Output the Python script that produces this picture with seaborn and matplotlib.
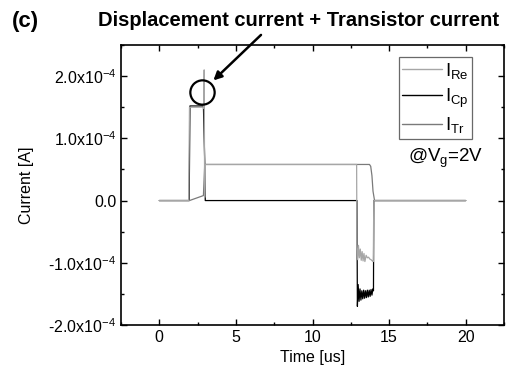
import matplotlib
matplotlib.use("Agg")
import matplotlib.pyplot as plt
import seaborn as sns
import numpy as np
import pandas as pd
from matplotlib.ticker import MultipleLocator, FuncFormatter

# ---- data (time in us, current in 1e-4 A) ----
t_re = [0, 1.92, 1.97, 2.85, 2.9, 2.93, 2.96, 3.0, 12.88, 12.9, 12.95, 13.0, 13.06, 13.12,
        13.18, 13.24, 13.3, 13.36, 13.42, 13.5, 13.58, 13.66, 13.74, 13.82, 13.9, 13.97,
        14.0, 20]
i_re = [0, 0, 1.5, 1.5, 1.48, 2.1, 0.05, 0.58, 0.58, -0.75, -0.95, -0.72, -0.92, -0.78,
        -0.96, -0.82, -0.97, -0.85, -0.98, -0.88, -0.92, -0.91, -0.94, -0.95, -0.97, -0.98,
        0, 0]

t_cp = [0, 1.95, 2.0, 2.88, 2.97, 3.0, 12.9, 12.93, 12.98, 13.04, 13.1, 13.16, 13.22,
        13.28, 13.34, 13.4, 13.46, 13.52, 13.58, 13.64, 13.7, 13.76, 13.82, 13.88, 13.94,
        13.98, 14.0, 20]
i_cp = [0, 0, 1.52, 1.52, 0.58, 0, 0, -1.7, -1.35, -1.62, -1.42, -1.6, -1.45, -1.58,
        -1.44, -1.57, -1.45, -1.56, -1.44, -1.55, -1.44, -1.54, -1.43, -1.52, -1.42,
        -1.45, 0, 0]

t_tr = [0, 1.97, 2.88, 2.96, 3.0, 13.72, 13.8, 13.88, 13.95, 14.05, 20]
i_tr = [0, 0, 0.08, 0.55, 0.58, 0.58, 0.55, 0.4, 0.15, 0, 0]

series_names = ["I$_{\\mathrm{Re}}$", "I$_{\\mathrm{Cp}}$", "I$_{\\mathrm{Tr}}$"]
series_colors = ["#a6a6a6", "#000000", "#7a7a7a"]

x_ticks = [0, 5, 10, 15, 20]
y_ticks = [-2.0, -1.0, 0.0, 1.0, 2.0]

sns.set_style("ticks")
plt.rcParams["font.family"] = ["Liberation Sans", "DejaVu Sans"]
plt.rcParams["mathtext.fontset"] = "custom"
plt.rcParams["mathtext.rm"] = "Liberation Sans"
plt.rcParams["mathtext.it"] = "Liberation Sans:italic"
plt.rcParams["mathtext.bf"] = "Liberation Sans:bold"
for k in ["text.color", "axes.labelcolor", "xtick.color", "ytick.color", "axes.edgecolor"]:
    plt.rcParams[k] = "black"

fig = plt.figure(figsize=(5.12, 3.81), dpi=100)
ax = fig.add_axes([121/512, 1-325/381, (504-121)/512, (325-45)/381])

df_cp = pd.DataFrame({"t": t_cp, "i": np.array(i_cp) * 1e-4})
df_tr = pd.DataFrame({"t": t_tr, "i": np.array(i_tr) * 1e-4})
df_re = pd.DataFrame({"t": t_re, "i": np.array(i_re) * 1e-4})

lw = 0.9
sns.lineplot(data=df_cp, x="t", y="i", ax=ax, color=series_colors[1], lw=lw,
             estimator=None, sort=False, label=series_names[1])
sns.lineplot(data=df_tr, x="t", y="i", ax=ax, color=series_colors[2], lw=lw,
             estimator=None, sort=False, label=series_names[2])
sns.lineplot(data=df_re, x="t", y="i", ax=ax, color=series_colors[0], lw=lw,
             estimator=None, sort=False, label=series_names[0])

ax.set_xlim(-2.5, 22.5)
ax.set_ylim(-2.0e-4, 2.5e-4)
ax.set_xticks(x_ticks)
ax.set_yticks([v * 1e-4 for v in y_ticks])
ax.xaxis.set_minor_locator(MultipleLocator(2.5))
ax.yaxis.set_minor_locator(MultipleLocator(0.5e-4))

def yfmt(v, pos):
    m = v / 1e-4
    if abs(m) < 1e-9:
        return "0.0"
    return f"{m:.1f}x10$^{{-4}}$"

ax.yaxis.set_major_formatter(FuncFormatter(yfmt))
ax.tick_params(which="both", direction="in", top=True, right=True, labelsize=11.5,
               width=1.0, color="black", labelcolor="black")
ax.tick_params(which="major", length=4)
ax.tick_params(which="minor", length=2.5)
for s in ax.spines.values():
    s.set_linewidth(1.2)
    s.set_color("black")

ax.set_xlabel("Time [us]", fontsize=11.5, labelpad=4)
ax.set_ylabel("Current [A]", fontsize=11.5, labelpad=10)

# legend
h, l = ax.get_legend_handles_labels()
order = [2, 0, 1]
leg = ax.legend([h[i] for i in order], [l[i] for i in order], loc="upper right",
                bbox_to_anchor=((472-121)/383, (325-57)/280), fontsize=13.5,
                frameon=True, fancybox=False, handlelength=2.1, handletextpad=0.15,
                borderpad=0.2, borderaxespad=0, labelspacing=0.3)
leg.get_frame().set_edgecolor("#444444")
leg.get_frame().set_linewidth(0.9)
for line in leg.get_lines():
    line.set_linewidth(1.0)

ax.text(446/512, 1-158/381, "@V$_{\\mathrm{g}}$=2V", transform=fig.transFigure,
        ha="center", va="center", fontsize=13.5)

# circle and arrow annotation
ax.plot([2.8], [1.75e-4], marker="o", markersize=17.5, markerfacecolor="none",
        markeredgecolor="black", markeredgewidth=1.6, linestyle="none")
ax.annotate("", xy=(3.4, 1.9e-4), xytext=(263/512, 1-33/381),
            textcoords="figure fraction", xycoords="data",
            arrowprops=dict(arrowstyle="-|>", color="black", lw=1.8,
                            mutation_scale=12), annotation_clip=False)

fig.text(298/512, 1-20/381, "Displacement current + Transistor current",
         ha="center", va="center", fontsize=14.5, fontweight="bold")
fig.text(12/512, 1-21/381, "(c)", ha="left", va="center", fontsize=16,
         fontweight="bold")

fig.savefig("out.png", dpi=100)
